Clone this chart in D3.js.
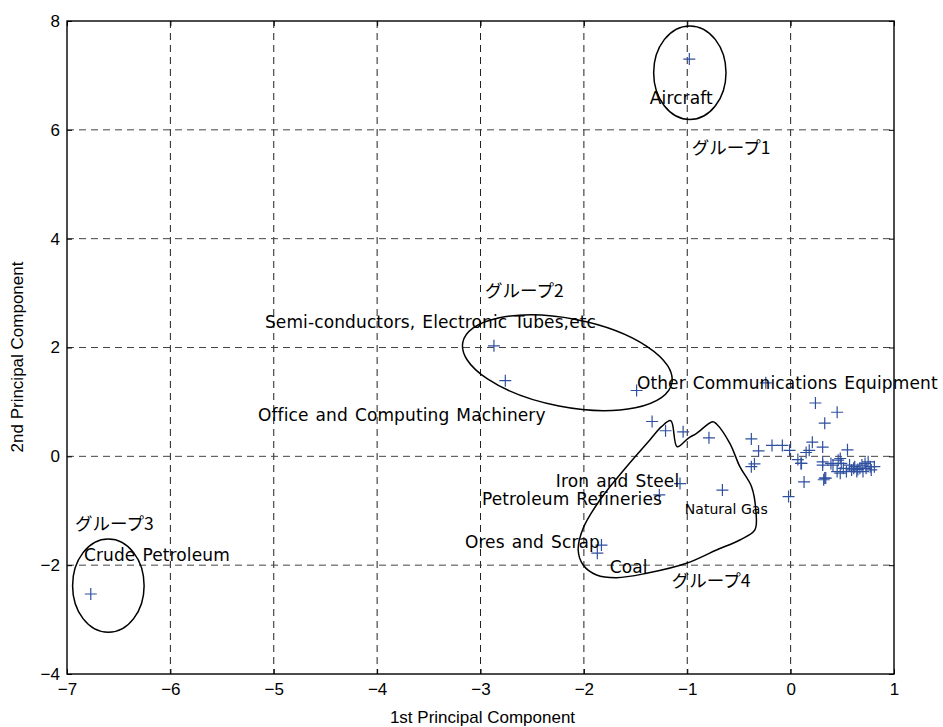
<!DOCTYPE html>
<html>
<head>
<meta charset="utf-8">
<script src="https://cdn.jsdelivr.net/npm/d3@7"></script>
<style>
  html, body { margin: 0; padding: 0; background: #fff; }
  svg { display: block; }
</style>
</head>
<body>
<svg id="chart" width="943" height="727"></svg>
<script>
// ---------- data ----------
const xTicks = [-7, -6, -5, -4, -3, -2, -1, 0, 1];
const yTicks = [-4, -2, 0, 2, 4, 6, 8];
const xLabel = "1st Principal Component";
const yLabel = "2nd Principal Component";

// principal component scores (PC1, PC2)
const pc1 = [
  -0.98, -6.77, -2.87, -2.76, -1.49, -0.24, -1.34, -1.21, -1.04, -0.79,
  -1.07, -1.27, -0.66, -1.83, -1.87, -0.38, -0.31, -0.35, -0.38, -0.18,
  -0.08, -0.01, 0.07, 0.10, 0.13, -0.02, 0.24, 0.45, 0.33, 0.21,
  0.18, 0.15, 0.31, 0.31, 0.55, 0.31, 0.33, 0.41, 0.46, 0.45,
  0.48, 0.34, 0.32, 0.49, 0.57, 0.62, 0.65, 0.69, 0.72, 0.73,
  0.77, 0.78, 0.81, 0.70, 0.67, 0.75, 0.64, 0.61, 0.59, 0.39,
  0.51, 0.105, 0.48, 0.54
];
const pc2 = [
  7.30, -2.53, 2.03, 1.39, 1.21, 1.35, 0.64, 0.47, 0.45, 0.34,
  -0.50, -0.71, -0.62, -1.63, -1.78, 0.32, 0.10, -0.14, -0.19, 0.20,
  0.20, 0.11, -0.06, -0.13, -0.47, -0.74, 0.98, 0.81, 0.61, 0.26,
  0.11, 0.07, 0.17, -0.10, 0.12, -0.16, -0.40, -0.16, -0.07, -0.28,
  -0.31, -0.40, -0.43, -0.13, -0.16, -0.19, -0.24, -0.16, -0.13, -0.22,
  -0.19, -0.25, -0.19, -0.28, -0.22, -0.10, -0.28, -0.22, -0.25, -0.13,
  -0.22, -0.13, -0.04, -0.28
];

// annotation labels: text, anchor position in data units, size class
const labelText = [
  "Aircraft", "グループ1", "グループ2", "Semi-conductors, Electronic Tubes,etc",
  "Office and Computing Machinery", "Other Communications Equipment",
  "Iron and Steel", "Petroleum Refineries", "Natural Gas", "Ores and Scrap",
  "Coal", "グループ4", "グループ3", "Crude Petroleum"
];
const labelX = [-1.362, -0.956, -2.957, -5.085, -5.153, -1.487, -2.271, -2.986, -1.023, -3.151, -1.749, -1.149, -6.923, -6.836];
const labelY = [6.585, 5.685, 3.057, 2.469, 0.760, 1.348, -0.453, -0.784, -0.967, -1.574, -2.033, -2.272, -1.225, -1.813];
const labelSmall = [false, false, false, false, false, false, false, false, true, false, false, false, false, false];

// group enclosures (data units)
const groupEllipses = [
  { cx: -0.975, cy: 7.05, rx: 0.35, ry: 0.86, angle: 0 },     // グループ1
  { cx: -6.60, cy: -2.376, rx: 0.346, ry: 0.857, angle: 0 },  // グループ3
  { cx: -2.16, cy: 1.72, rx: 1.03, ry: 0.81, angle: 11 }      // グループ2
];
const group4X = [-1.159, -1.098, -0.991, -0.910, -0.755, -0.717, -0.588, -0.491, -0.378, -0.337, -0.346, -0.491, -0.717, -1.007, -1.394, -1.684, -1.877, -2.007, -2.055, -2.007, -1.845, -1.587, -1.362, -1.249];
const group4Y = [0.655, 0.177, 0.332, 0.424, 0.637, 0.595, 0.240, -0.190, -0.558, -0.986, -1.353, -1.537, -1.721, -1.965, -2.149, -2.230, -2.180, -1.996, -1.721, -1.322, -0.802, -0.190, 0.301, 0.545];

// ---------- drawing ----------
const svg = d3.select("#chart");
const m = { left: 67, top: 21, right: 943 - 894, bottom: 727 - 674 };
const W = 943 - m.left - m.right, H = 727 - m.top - m.bottom;
const x = d3.scaleLinear().domain([-7, 1]).range([0, W]);
const y = d3.scaleLinear().domain([-4, 8]).range([H, 0]);
const g = svg.append("g").attr("transform", `translate(${m.left},${m.top})`);

const tickFont = "'Liberation Sans', Arial, sans-serif";
const labFont = "'DejaVu Sans', sans-serif";
const jpFont = "'Noto Sans CJK JP', sans-serif";

// grid
g.append("g").selectAll("line").data(xTicks.slice(1, -1)).join("line")
  .attr("x1", d => x(d)).attr("x2", d => x(d)).attr("y1", 0).attr("y2", H)
  .attr("stroke", "#222").attr("stroke-width", 1).attr("stroke-dasharray", "7,5");
g.append("g").selectAll("line").data(yTicks.slice(1, -1)).join("line")
  .attr("y1", d => y(d)).attr("y2", d => y(d)).attr("x1", 0).attr("x2", W)
  .attr("stroke", "#444").attr("stroke-width", 1).attr("stroke-dasharray", "7,5");

// axes
const fmt = d => d < 0 ? "\u2212" + Math.abs(d) : String(d);
const xAxis = g.append("g").attr("transform", `translate(0,${H})`)
  .call(d3.axisBottom(x).tickValues(xTicks).tickSize(-5).tickPadding(9).tickFormat(fmt));
const xAxisTop = g.append("g")
  .call(d3.axisTop(x).tickValues(xTicks).tickSize(-5).tickFormat(""));
const yAxis = g.append("g")
  .call(d3.axisLeft(y).tickValues(yTicks).tickSize(-5).tickPadding(7).tickFormat(fmt));
const yAxisR = g.append("g").attr("transform", `translate(${W},0)`)
  .call(d3.axisRight(y).tickValues(yTicks).tickSize(-5).tickFormat(""));
[xAxis, xAxisTop, yAxis, yAxisR].forEach(a => {
  a.select(".domain").remove();
  a.selectAll("line").attr("stroke", "#000");
  a.selectAll("text").attr("font-family", tickFont).attr("font-size", 17).attr("fill", "#000");
});

g.append("rect").attr("x", 0).attr("y", 0).attr("width", W).attr("height", H)
  .attr("fill", "none").attr("stroke", "#000").attr("stroke-width", 1.4);

// axis titles
svg.append("text").attr("x", m.left + W / 2 + 2).attr("y", 723)
  .attr("text-anchor", "middle").attr("font-family", tickFont).attr("font-size", 17)
  .text(xLabel);
svg.append("text").attr("transform", `translate(23,${357}) rotate(-90)`)
  .attr("text-anchor", "middle").attr("font-family", tickFont).attr("font-size", 17)
  .text(yLabel);

// group enclosures
const kx = x(1) - x(0), ky = y(0) - y(1);
g.append("g").selectAll("ellipse").data(groupEllipses).join("ellipse")
  .attr("cx", d => x(d.cx)).attr("cy", d => y(d.cy))
  .attr("rx", d => d.rx * kx).attr("ry", d => d.ry * ky)
  .attr("transform", d => `rotate(${d.angle},${x(d.cx)},${y(d.cy)})`)
  .attr("fill", "none").attr("stroke", "#000").attr("stroke-width", 1.5);

const g4 = group4X.map((v, i) => [v, group4Y[i]]);
g.append("path").datum(g4)
  .attr("d", d3.line().x(d => x(d[0])).y(d => y(d[1])).curve(d3.curveCatmullRomClosed.alpha(0.5)))
  .attr("fill", "none").attr("stroke", "#000").attr("stroke-width", 1.5);

// markers
const pts = pc1.map((v, i) => [v, pc2[i]]);
const s = 6;
g.append("g").selectAll("path").data(pts).join("path")
  .attr("d", d => {
    const px = x(d[0]), py = y(d[1]);
    return `M${px - s},${py}H${px + s}M${px},${py - s}V${py + s}`;
  })
  .attr("stroke", "#2f4f9f").attr("stroke-width", 1.2).attr("fill", "none");

// labels
const isJp = t => /[\u3040-\u30ff]/.test(t);
g.append("g").selectAll("text").data(labelText).join("text")
  .attr("x", (d, i) => x(labelX[i])).attr("y", (d, i) => y(labelY[i]))
  .attr("dominant-baseline", "central")
  .attr("font-family", d => isJp(d) ? jpFont : labFont)
  .attr("font-size", (d, i) => labelSmall[i] ? 14 : (isJp(d) ? 17.5 : 17))
  .attr("letter-spacing", (d, i) => (labelSmall[i] || isJp(d)) ? 0 : 0.12)
  .attr("word-spacing", (d, i) => (labelSmall[i] || isJp(d)) ? 0 : 1.5)
  .attr("fill", "#000")
  .text(d => d);
</script>
</body>
</html>
